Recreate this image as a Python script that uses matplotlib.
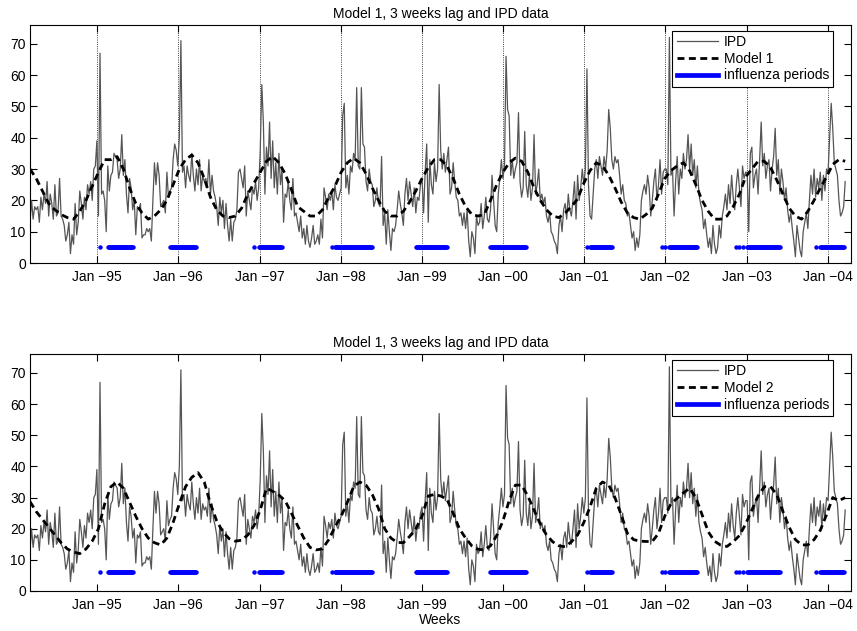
import matplotlib
matplotlib.use("Agg")
import matplotlib.pyplot as plt
from matplotlib.lines import Line2D
import numpy as np
import pandas as pd

plt.rcParams["font.family"] = ["Liberation Sans", "DejaVu Sans"]

# weekly IPD counts, one line per season (first week: 1994-03-05)
start_date = "1994-03-05"
ipd = [
    13, 20, 14, 18, 17, 18, 13, 21, 17, 22, 19, 26, 15, 22, 19, 14, 25, 15, 16, 27, 15, 14, 12, 7, 9,
    13, 3, 9, 6, 19, 9, 13, 23, 19, 14, 21, 17, 25, 22, 26, 20, 30, 31, 39, 15,
    67, 22, 23, 20, 10, 31, 23, 28, 29, 35, 34, 33, 27, 30, 41, 28, 33, 22, 16, 27, 24, 17, 20, 9, 18, 17,
    19, 8, 9, 9, 11, 10, 11, 7, 20, 32, 25, 32, 28, 18, 19, 20, 16, 29, 21, 23, 24, 33, 38, 36, 31, 40,
    71, 29, 31, 24, 31, 28, 26, 35, 28, 23, 30, 25, 33, 23, 28, 26, 27, 24, 33, 22, 28, 23, 21, 18, 12, 21,
    16, 20, 11, 19, 12, 7, 14, 7, 13, 14, 17, 29, 30, 27, 24, 31, 15, 23, 20, 17, 24, 22, 26, 20, 24, 36,
    57, 45, 22, 37, 31, 45, 27, 39, 24, 32, 22, 35, 25, 30, 13, 22, 21, 26, 20, 17, 27, 15, 16, 13, 10, 15,
    8, 11, 6, 12, 7, 5, 8, 12, 6, 7, 9, 6, 14, 8, 24, 21, 17, 22, 20, 23, 17, 25, 21, 20, 22, 24,
    47, 51, 24, 28, 22, 31, 29, 35, 33, 56, 31, 30, 56, 38, 37, 26, 23, 30, 26, 25, 18, 20, 24, 19, 18, 34,
    12, 16, 6, 17, 10, 4, 11, 10, 12, 17, 23, 19, 16, 12, 22, 27, 20, 26, 22, 18, 24, 16, 21, 20, 25, 27,
    16, 29, 38, 13, 33, 25, 22, 32, 26, 30, 57, 36, 30, 35, 29, 33, 37, 22, 24, 32, 26, 21, 20, 15, 16, 12,
    16, 11, 17, 7, 2, 10, 8, 3, 15, 12, 13, 19, 11, 15, 21, 14, 13, 17, 28, 20, 12, 10, 22, 27, 33, 27,
    31, 66, 49, 47, 28, 33, 27, 30, 32, 48, 26, 21, 24, 42, 25, 21, 28, 20, 24, 41, 22, 25, 30, 20, 22, 19,
    21, 15, 13, 16, 10, 9, 7, 6, 3, 12, 15, 10, 17, 19, 14, 22, 17, 15, 20, 26, 14, 28, 20, 24, 30, 25,
    30, 62, 25, 15, 14, 22, 30, 33, 27, 34, 31, 28, 34, 30, 36, 49, 43, 33, 30, 34, 32, 33, 28, 22, 25, 20,
    19, 15, 16, 12, 8, 10, 4, 8, 5, 9, 20, 23, 25, 22, 28, 24, 15, 20, 26, 30, 20, 25, 33, 22, 29, 30,
    30, 25, 72, 28, 30, 15, 26, 34, 22, 30, 27, 35, 30, 33, 41, 30, 38, 28, 33, 24, 31, 22, 19, 17, 11, 14,
    9, 5, 8, 3, 12, 6, 3, 5, 12, 8, 15, 18, 22, 17, 25, 19, 28, 21, 17, 25, 30, 24, 18, 31, 27, 29,
    29, 10, 35, 37, 24, 28, 30, 22, 33, 45, 31, 35, 27, 31, 33, 23, 30, 34, 43, 28, 33, 22, 30, 26, 20, 24,
    17, 13, 16, 11, 7, 2, 12, 8, 4, 2, 10, 13, 16, 11, 20, 28, 22, 30, 21, 27, 24, 29, 20, 28, 23, 30, 29,
    40, 51, 43, 32, 30, 28, 20, 15, 16, 18, 26,
]

# model fits, read every 4th week
model1 = [
    30, 27, 23, 19, 17, 15.5, 14.5, 14, 16.5, 20, 24.5, 29, 33,
    33, 34, 30, 24, 19, 16, 14, 15, 17, 20, 25, 30, 33,
    34.5, 32, 27, 21, 17, 15, 14.5, 15, 17.5, 22, 25.5, 29, 32.5,
    34, 32, 28.5, 23.5, 18, 16.5, 15, 15, 17, 21, 24.5, 29, 32,
    33.5, 32, 28.5, 24, 20, 16.5, 15, 15, 16.5, 19.5, 23, 27, 30.5,
    33, 33, 31, 27, 22, 18, 15.5, 15, 15.5, 20, 25, 29, 32,
    33.5, 32.5, 29, 24, 20, 17, 15, 14.5, 16, 18, 20.5, 25.5, 29.5,
    32, 31, 28, 24, 19.5, 16, 14.5, 14, 15.5, 17.5, 22, 27, 29.5,
    31, 32, 29.5, 25, 20, 16.5, 14, 14, 15, 18, 22, 27.5, 30,
    32.5, 32.5, 30.5, 26.5, 22, 17.5, 15, 14, 16.5, 20, 24, 27.5, 31.5,
    33, 32.5,
]
model2 = [
    28.7, 25.5, 23, 20.5, 18, 15.5, 13.5, 12.5, 12, 13.5, 16, 20, 28,
    33.5, 35, 33, 28.5, 24, 20, 17, 15.5, 14.8, 17, 22, 28, 33.5,
    36.5, 38, 35, 28, 22.5, 19, 16.8, 16, 16.3, 18, 21, 26, 33,
    32, 30.8, 29, 25, 21, 17, 14, 13.2, 13.5, 16.5, 20.5, 24, 28.5,
    33.5, 35, 34, 31, 26.5, 20, 17, 15.6, 15.5, 17.5, 20, 24, 30.5,
    31, 30.5, 29.5, 25, 20, 17, 14.5, 13.4, 13.2, 14.5, 17.8, 22.5, 29,
    34, 34, 30.5, 26, 21.5, 18, 15.8, 14.5, 14.2, 15.8, 18, 22, 27,
    33, 35, 34, 30, 24.5, 18.5, 16.5, 16, 15.9, 15.9, 18.5, 24, 28,
    29.8, 31.5, 33, 30, 24.5, 19, 16, 14.7, 14.3, 15.8, 17.8, 21.5, 26,
    30.5, 33.5, 33.5, 31, 25.5, 20.5, 16.5, 14.8, 14.8, 16.5, 19.5, 24.5, 30,
    29, 30,
]

# influenza weeks (first week index, last week index)
flu_periods = [(45, 45), (50, 66), (90, 107), (144, 144), (147, 162), (194, 194),
               (196, 220), (248, 268), (296, 319), (358, 358), (360, 374),
               (406, 406), (408, 408), (411, 429), (454, 454), (456, 456),
               (458, 458), (461, 482), (505, 505), (508, 523)]

tick_years = [1995, 1996, 1997, 1998, 1999, 2000, 2001, 2002, 2003, 2004]
tick_labels = ["Jan \u221295", "Jan \u221296", "Jan \u221297", "Jan \u221298", "Jan \u221299",
               "Jan \u221200", "Jan \u221201", "Jan \u221202", "Jan \u221203", "Jan \u221204"]

dates = pd.date_range(start_date, periods=len(ipd), freq="7D")
model_dates = dates[::4]
ipd_color = "#555555"
dash = (0, (2.5, 1.6))


def draw_panel(ax, model, model_label, flu_level, xgrid):
    flu = np.full(len(ipd), np.nan)
    for a, b in flu_periods:
        flu[a:b + 1] = flu_level

    ax.plot(dates, ipd, color=ipd_color, lw=0.9)
    ax.plot(model_dates, model, color="k", lw=2.0, ls=dash)
    ax.plot(dates, flu, color="#0000ff", lw=3.4, marker="o", ms=3.2, mew=0,
            solid_capstyle="butt")

    ax.set_xlim(pd.Timestamp("1994-03-05"), pd.Timestamp("2004-04-14"))
    ax.set_ylim(0, 76)
    ax.set_yticks(range(0, 71, 10))
    ax.set_xticks([pd.Timestamp(f"{y}-01-01") for y in tick_years])
    ax.set_xticklabels(tick_labels)
    ax.tick_params(direction="in", top=True, right=True, length=5, width=0.8,
                   labelsize=10)
    ax.tick_params(axis="x", pad=5)
    ax.tick_params(axis="y", pad=3)
    for s in ax.spines.values():
        s.set_linewidth(0.8)
    if xgrid:
        ax.grid(axis="x", linestyle=":", color="k", lw=0.6)

    ax.set_title("Model 1, 3 weeks lag and IPD data", fontsize=10, pad=5)

    handles = [Line2D([], [], color=ipd_color, lw=0.9),
               Line2D([], [], color="k", lw=2.0, ls=dash),
               Line2D([], [], color="#0000ff", lw=3.4)]
    leg = ax.legend(handles, ["IPD", model_label, "influenza periods"],
                    loc="upper right", bbox_to_anchor=(0.9788, 0.976),
                    borderaxespad=0, fancybox=False, edgecolor="k",
                    framealpha=1, fontsize=10, handlelength=3.0,
                    handletextpad=0.4, labelspacing=0.2, borderpad=0.3)
    leg.get_frame().set_linewidth(0.8)


fig = plt.figure(figsize=(8.57, 6.31), dpi=100)
ax1 = fig.add_axes([0.035, 0.5832, 0.9577, 0.3772])
ax2 = fig.add_axes([0.035, 0.0634, 0.9577, 0.3751])

draw_panel(ax1, model1, "Model 1", 5, True)
draw_panel(ax2, model2, "Model 2", 6, False)
ax2.set_xlabel("Weeks", fontsize=10, labelpad=1)

fig.savefig("out.png", dpi=100)
